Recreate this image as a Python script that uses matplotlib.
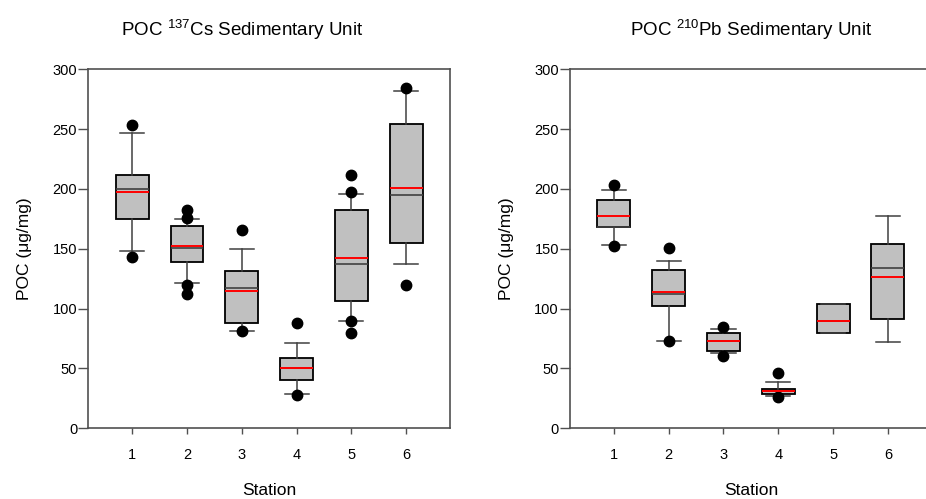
import matplotlib
matplotlib.use('AGG')
import matplotlib.pyplot as plt

plt.rcParams['font.family'] = ['Liberation Sans', 'DejaVu Sans']

stations = [1, 2, 3, 4, 5, 6]
y_ticks = [0, 50, 100, 150, 200, 250, 300]

# 137Cs sedimentary unit
cs_whislo = [148, 121, 81, 29, 90, 137]
cs_q1 = [175, 139, 88, 40, 106, 155]
cs_med = [200, 151, 117, 50, 137, 195]
cs_mean = [197.5, 152, 115, 50, 142, 201]
cs_q3 = [212, 169, 131, 59, 182, 254]
cs_whishi = [247, 175, 150, 71, 196, 282]
cs_fliers = [[253, 143], [182, 176, 120, 112], [166, 81], [88, 28],
             [212, 197, 90, 80], [284, 120]]

# 210Pb sedimentary unit
pb_whislo = [153.5, 73, 62.5, 27, 80, 72]
pb_q1 = [168, 102, 64.5, 28.6, 80, 91]
pb_med = [168.5, 112, 73, 31, 90, 134]
pb_mean = [177.5, 114, 73, 31, 90, 126]
pb_q3 = [190.5, 132, 80, 33, 104, 154]
pb_whishi = [199.3, 140, 82.6, 38.4, 104, 177]
pb_fliers = [[203, 152.6], [150.5, 73], [84.3, 60.6], [46, 26], [], []]


def make_stats(whislo, q1, med, mean, q3, whishi, fliers):
    stats = list()
    for ind in range(len(stations)):
        stats.append(dict(whislo=whislo[ind], q1=q1[ind], med=med[ind], mean=mean[ind],
                          q3=q3[ind], whishi=whishi[ind], fliers=fliers[ind]))
    return stats


def draw_panel(ax, stats):
    ax.bxp(stats, positions=stations, widths=0.6, capwidths=0.44,
           patch_artist=True, showmeans=True, meanline=True,
           boxprops=dict(facecolor='#c0c0c0', edgecolor='black', linewidth=1.3),
           whiskerprops=dict(color='#404040', linewidth=1.1),
           capprops=dict(color='#404040', linewidth=1.1),
           medianprops=dict(color='#404040', linewidth=1.2),
           meanprops=dict(color='red', linestyle='-', linewidth=1.4),
           flierprops=dict(marker='o', markerfacecolor='black', markeredgecolor='black',
                           markersize=7.5))
    ax.set_xlim(0.2, 6.8)
    ax.set_ylim(0, 300)
    ax.set_yticks(y_ticks)
    ax.set_xticks(stations)
    ax.set_xticklabels([str(s) for s in stations])
    for spine in ax.spines.values():
        spine.set_color('#505050')
        spine.set_linewidth(1.2)
    ax.tick_params(axis='y', direction='out', length=7, width=1, color='#505050',
                   labelsize=10.5, pad=1)
    ax.tick_params(axis='x', direction='out', length=4.5, width=1, color='#505050',
                   labelsize=10.5, pad=10)
    ax.set_ylabel(u'POC (\u03bcg/mg)', fontsize=12.5, labelpad=14.5)
    ax.set_xlabel('Station', fontsize=12.5, labelpad=15)


def main():
    fig = plt.figure(figsize=(9.26, 4.99), dpi=100)
    ax1 = fig.add_axes([0.0954, 0.1417, 0.3906, 0.7197])
    ax2 = fig.add_axes([0.6156, 0.1417, 0.3906, 0.7197])

    draw_panel(ax1, make_stats(cs_whislo, cs_q1, cs_med, cs_mean, cs_q3, cs_whishi, cs_fliers))
    draw_panel(ax2, make_stats(pb_whislo, pb_q1, pb_med, pb_mean, pb_q3, pb_whishi, pb_fliers))

    fig.text(242 / 926, 1 - 30 / 499, r'POC $^{\mathregular{137}}$Cs Sedimentary Unit',
             ha='center', va='center', fontsize=13.5)
    fig.text(751 / 926, 1 - 30 / 499, r'POC $^{\mathregular{210}}$Pb Sedimentary Unit',
             ha='center', va='center', fontsize=13.5)

    fig.savefig('out.png', dpi=100)


if "__main__" in __name__:
    main()
